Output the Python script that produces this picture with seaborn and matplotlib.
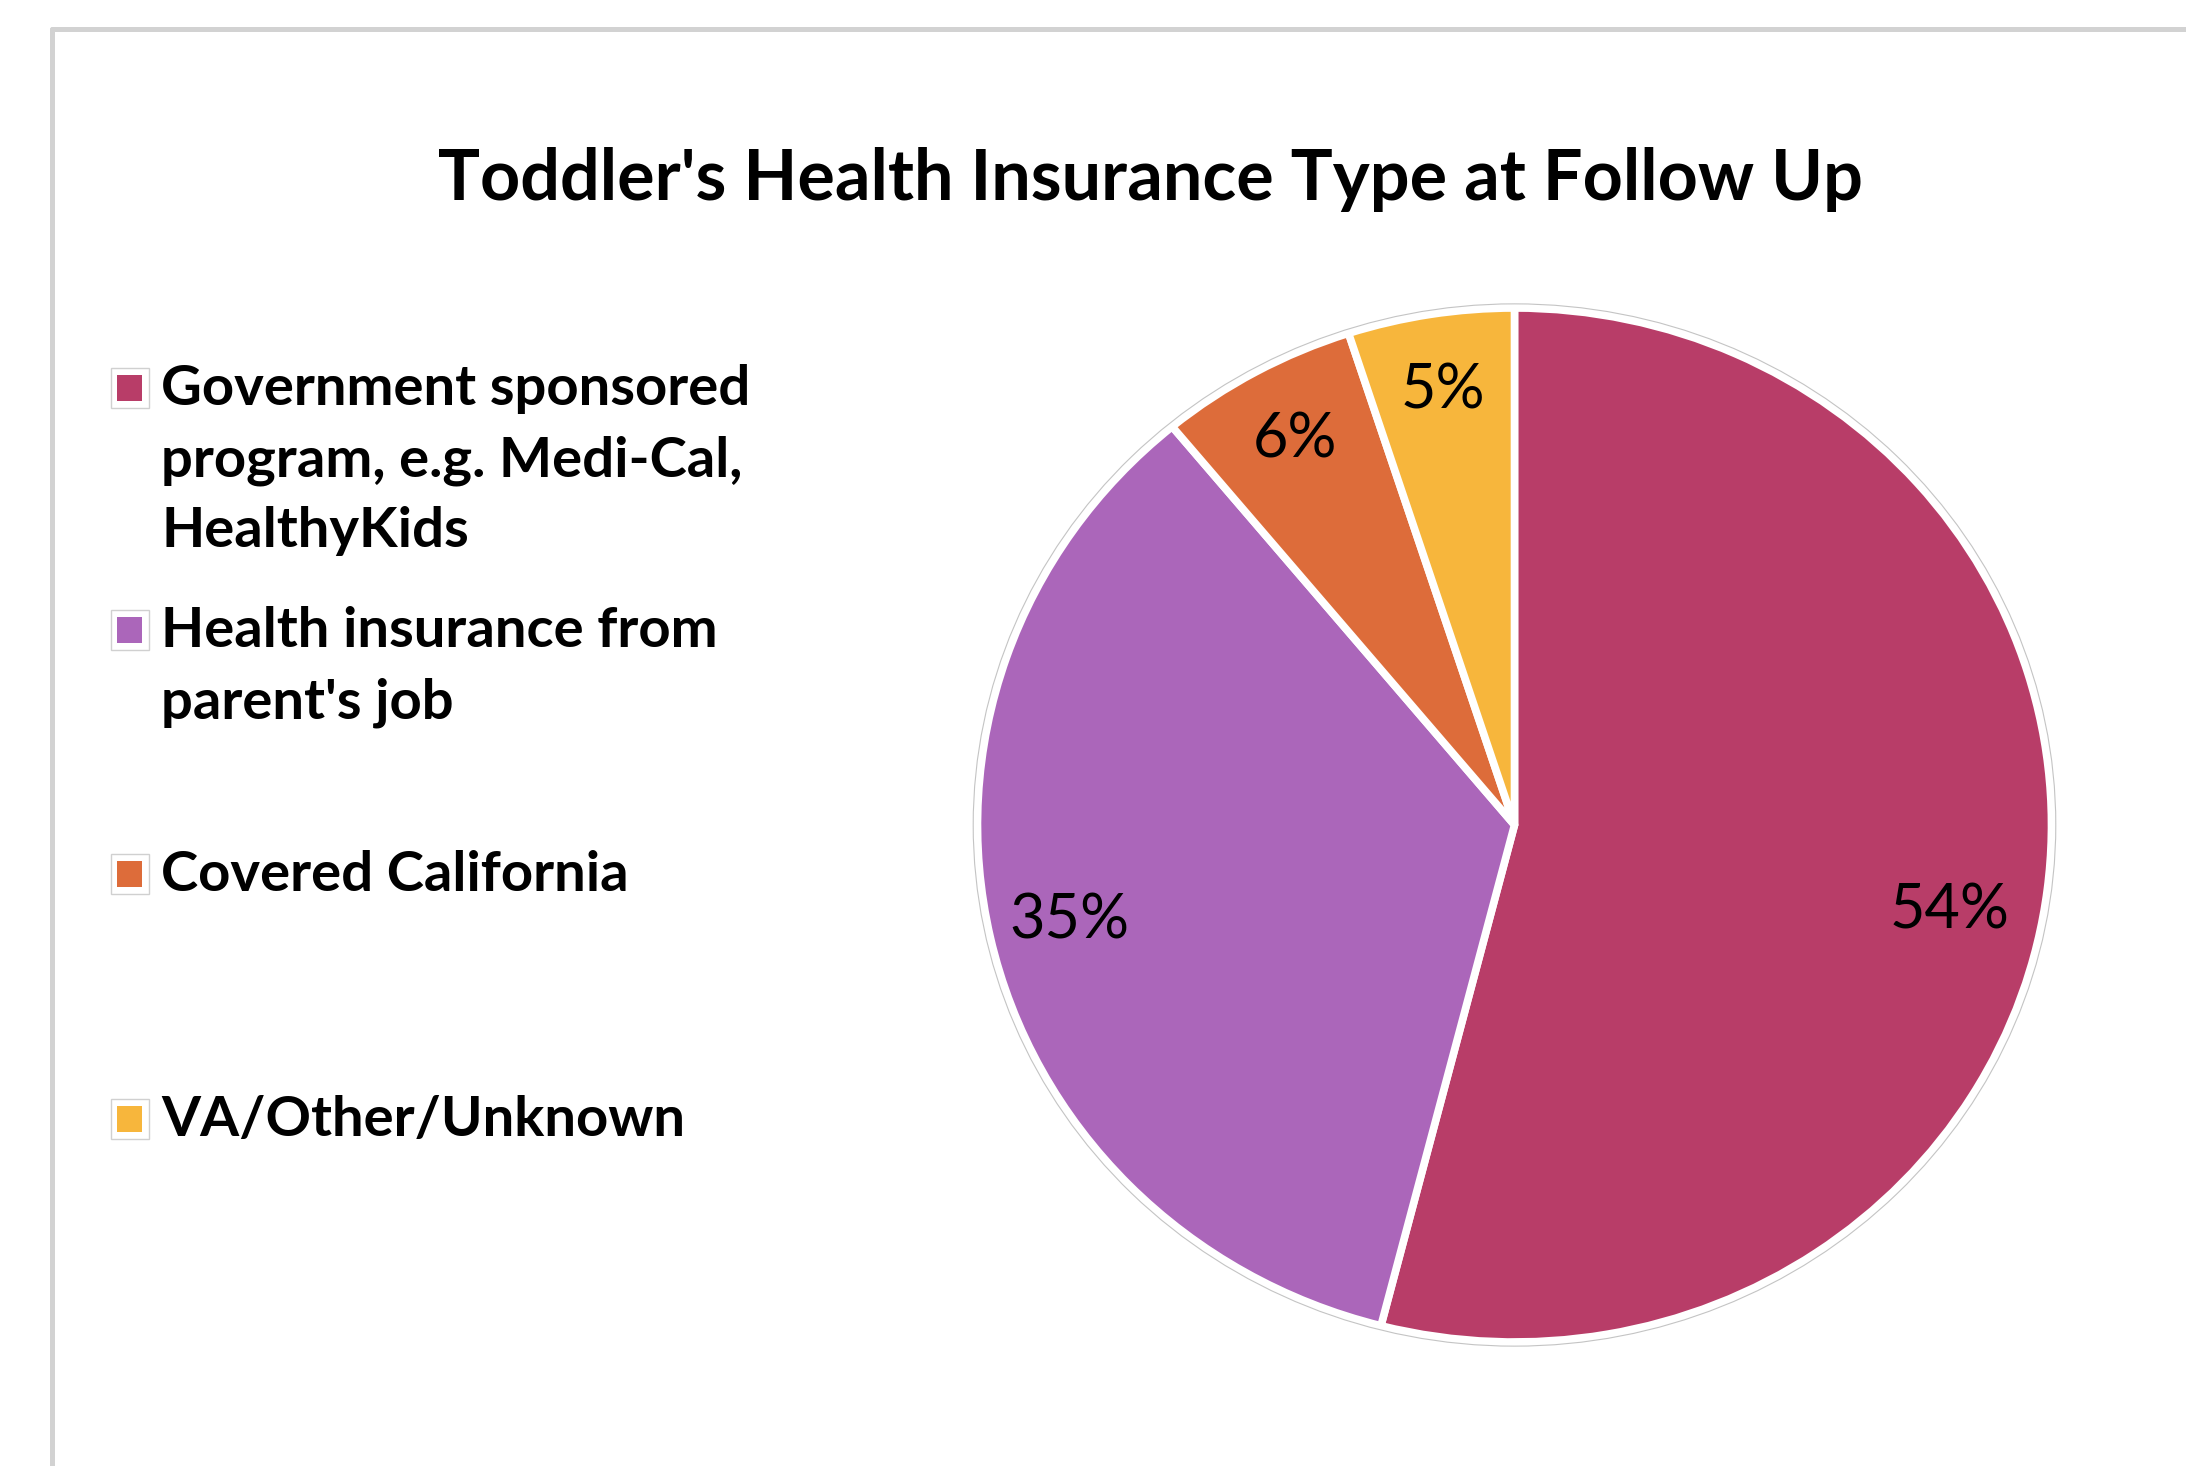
import numpy as np
import pandas as pd
import matplotlib.pyplot as plt
import matplotlib.patches as patches
from matplotlib.lines import Line2D
import seaborn as sns

# Chart data
categories = [
    'Government sponsored\nprogram, e.g. Medi-Cal,\nHealthyKids',
    "Health insurance from\nparent's job",
    'Covered California',
    'VA/Other/Unknown',
]
percents = [54, 35, 6, 5]
slice_colors = ['#B83D68', '#AB66BA', '#DD6C3A', '#F7B63C']
title = "Toddler's Health Insurance Type at Follow Up"

sns.set_theme(style='white')
plt.rcParams['font.family'] = ['Lato', 'DejaVu Sans']

W, H = 2186, 1466
fig = plt.figure(figsize=(W / 100, H / 100), dpi=100)
fig.patch.set_facecolor('white')

# pie axes, slightly wider than tall like the reference
ax = fig.add_axes([0.43488, 0.06695, 0.51587, 0.74059])
palette = sns.color_palette(slice_colors)
wedges, texts, autotexts = ax.pie(
    percents,
    colors=palette,
    startangle=90,
    counterclock=False,
    autopct='%1.0f%%',
    pctdistance=0.85,
    wedgeprops=dict(edgecolor='white', linewidth=5.5, joinstyle='round'),
    textprops=dict(fontsize=44, color='black'),
)
# the big slice label sits a little lower in the original
x0, y0 = autotexts[0].get_position()
autotexts[0].set_position((x0 * 0.96, y0 - 0.06))
ax.set_aspect('auto')
ax.set_xlim(-1.05, 1.05)
ax.set_ylim(-1.05, 1.05)
ax.add_patch(patches.Circle((0, 0), 1.008, fill=False,
                            edgecolor='#c4c4c4', linewidth=0.8))
ax.axis('off')

# title
fig.text(1150 / W, 1 - 180 / H, title, ha='center', va='center',
         fontsize=50.5, fontweight='bold', color='black')

# legend drawn by hand: marker on the first line of each entry
item_y = [388, 630, 874, 1119]
line_gap = 71
for label, color, y0 in zip(categories, slice_colors, item_y):
    fig.add_artist(patches.Rectangle(((129.5 - 19) / W, 1 - (y0 + 20) / H),
                                     38 / W, 40 / H, transform=fig.transFigure,
                                     facecolor='white', edgecolor='#d0d0d0',
                                     linewidth=1))
    fig.add_artist(patches.Rectangle(((129.5 - 12.5) / W, 1 - (y0 + 13) / H),
                                     25 / W, 26 / H, transform=fig.transFigure,
                                     facecolor=color, edgecolor='none'))
    for i, line in enumerate(label.split('\n')):
        fig.text(161 / W, 1 - (y0 + 17 + i * line_gap) / H, line,
                 ha='left', va='baseline', fontsize=40.5, fontweight='bold',
                 color='black')

# screenshot frame on the top and left
fig.add_artist(Line2D([52 / W, 52 / W], [0, 1 - 29 / H],
                      transform=fig.transFigure, color='#d2d2d2', linewidth=3.6))
fig.add_artist(Line2D([52 / W, 1], [1 - 29 / H, 1 - 29 / H],
                      transform=fig.transFigure, color='#d2d2d2', linewidth=3.6))

fig.savefig('out.png', dpi=100)
